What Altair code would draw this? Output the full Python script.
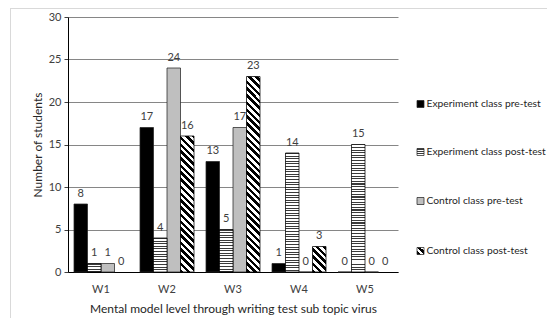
import altair as alt
import pandas as pd

levels = ["W1", "W2", "W3", "W4", "W5"]
series = ["Experiment class pre-test", "Experiment class post-test",
          "Control class pre-test", "Control class post-test"]
exp_pre = [8, 17, 13, 1, 0]
exp_post = [1, 4, 5, 14, 15]
ctrl_pre = [1, 24, 17, 0, 0]
ctrl_post = [0, 16, 23, 3, 0]
y_ticks = [0, 5, 10, 15, 20, 25, 30]

rows = []
for s, vals in zip(series, [exp_pre, exp_post, ctrl_pre, ctrl_post]):
    for lvl, v in zip(levels, vals):
        rows.append({"level": lvl, "series": s, "value": v})
df = pd.DataFrame(rows)

FONT = "Lato"
W, H = 330, 255
YMAX = 30
STEP = W / len(levels)
P_IN = 12 / STEP
P_OUT = 6 / STEP
BAR_W = STEP * (1 - P_IN) / len(series)
PX = H / YMAX


def stripes_h(h, period=2.6, dark=1.0, col="#3a3a3a"):
    stops = []
    k = 0
    while k * period < h:
        a = k * period / h
        b = min((k * period + dark) / h, 1)
        c = min((k + 1) * period / h, 1)
        stops += [(a, col), (b, col), (b, "white"), (c, "white")]
        k += 1
    return {"gradient": "linear", "x1": 0, "y1": 0, "x2": 0, "y2": 1,
            "stops": [{"offset": round(o, 5), "color": cc} for o, cc in stops]}


def stripes_d(w, h, period=7.0, dark=3.5):
    L = w + h
    s = L / (w * w + h * h)
    stops = []
    k = 0
    while k * period < L:
        a = k * period / L
        b = min((k * period + dark) / L, 1)
        c = min((k + 1) * period / L, 1)
        stops += [(a, "black"), (b, "black"), (b, "white"), (c, "white")]
        k += 1
    return {"gradient": "linear", "x1": 0, "y1": 1, "x2": round(w * s, 6),
            "y2": round(1 - h * s, 6),
            "stops": [{"offset": round(o, 5), "color": cc} for o, cc in stops]}


x_enc = alt.X("level:N", sort=levels,
              scale=alt.Scale(domain=levels, paddingInner=P_IN, paddingOuter=P_OUT),
              axis=alt.Axis(title="Mental model level through writing test sub topic virus",
                            labelAngle=0, ticks=False, labelPadding=11,
                            domainColor="#000000", labelColor="#404040",
                            labelFontSize=11, labelFont=FONT,
                            titleFont=FONT, titleFontSize=12, titleFontWeight="normal",
                            titleColor="#262626", titlePadding=9))
xo_enc = alt.XOffset("series:N", sort=series,
                     scale=alt.Scale(domain=series, paddingInner=0, paddingOuter=0))
y_enc = alt.Y("value:Q",
              scale=alt.Scale(domain=[0, YMAX], nice=False),
              axis=alt.Axis(title="Number of students", values=y_ticks,
                            tickSize=4, tickColor="#404040", domainColor="#000000",
                            gridColor="#868686", labelColor="#404040",
                            labelFontSize=11, labelFont=FONT, labelPadding=3,
                            titleFont=FONT, titleFontSize=12, titleFontWeight="normal",
                            titleColor="#262626", titlePadding=4))

base = alt.Chart(df).encode(x=x_enc, xOffset=xo_enc, y=y_enc)

layers = []
solid = base.transform_filter(
    alt.FieldOneOfPredicate(field="series", oneOf=[series[0], series[2]])
).mark_bar(stroke="#262626", strokeWidth=0.75).encode(
    fill=alt.Fill("series:N", scale=alt.Scale(domain=[series[0], series[2]],
                                              range=["#000000", "#bfbfbf"]),
                  legend=None))
layers.append(solid)

for s, vals in [(series[1], exp_post), (series[3], ctrl_post)]:
    for lvl, v in zip(levels, vals):
        if v <= 0:
            continue
        h = v * PX
        grad = stripes_h(h) if s == series[1] else stripes_d(BAR_W, h)
        layers.append(
            base.transform_filter(f"datum.level == '{lvl}' && datum.series == '{s}'")
            .mark_bar(fill=grad, stroke="#000000", strokeWidth=0.75)
        )

labels = base.mark_text(baseline="middle", dy=-10.5, fontSize=11, font=FONT,
                        color="#404040").encode(text="value:Q")
layers.append(labels)

# legend
leg_df = pd.DataFrame({"series": series})
leg_y = [87, 135, 184, 234]
leg_fill = ["#000000", stripes_h(7, period=2.4, dark=1.0), "#bfbfbf",
            stripes_d(7, 7, period=7, dark=3.5)]
for s, yc, f in zip(series, leg_y, leg_fill):
    one = alt.Chart(leg_df).transform_filter(f"datum.series == '{s}'")
    layers.append(one.mark_rect(fill=f, stroke="#262626", strokeWidth=0.75).encode(
        x=alt.value(349), x2=alt.value(356), y=alt.value(yc - 3.5), y2=alt.value(yc + 3.5)))
    layers.append(one.mark_text(align="left", baseline="middle", fontSize=10.3, font=FONT,
                                color="#262626").encode(
        x=alt.value(358.5), y=alt.value(yc), text="series:N"))

# outer frame
frame_df = pd.DataFrame({"k": [0]})
layers.append(alt.Chart(frame_df).mark_rule(color="#d9d9d9", strokeWidth=1).encode(
    x=alt.value(-57.5), y=alt.value(-9), y2=alt.value(301)))
layers.append(alt.Chart(frame_df).mark_rule(color="#d9d9d9", strokeWidth=1).encode(
    x=alt.value(-58), x2=alt.value(479), y=alt.value(-8.5)))

chart = alt.layer(*layers).properties(
    width=W, height=H,
    autosize=alt.AutoSizeParams(type="none"),
    padding={"left": 60, "top": 9, "right": 149, "bottom": 46},
).configure_view(strokeWidth=0)

chart.save("out.html", embed_options={"renderer": "svg", "actions": False})
